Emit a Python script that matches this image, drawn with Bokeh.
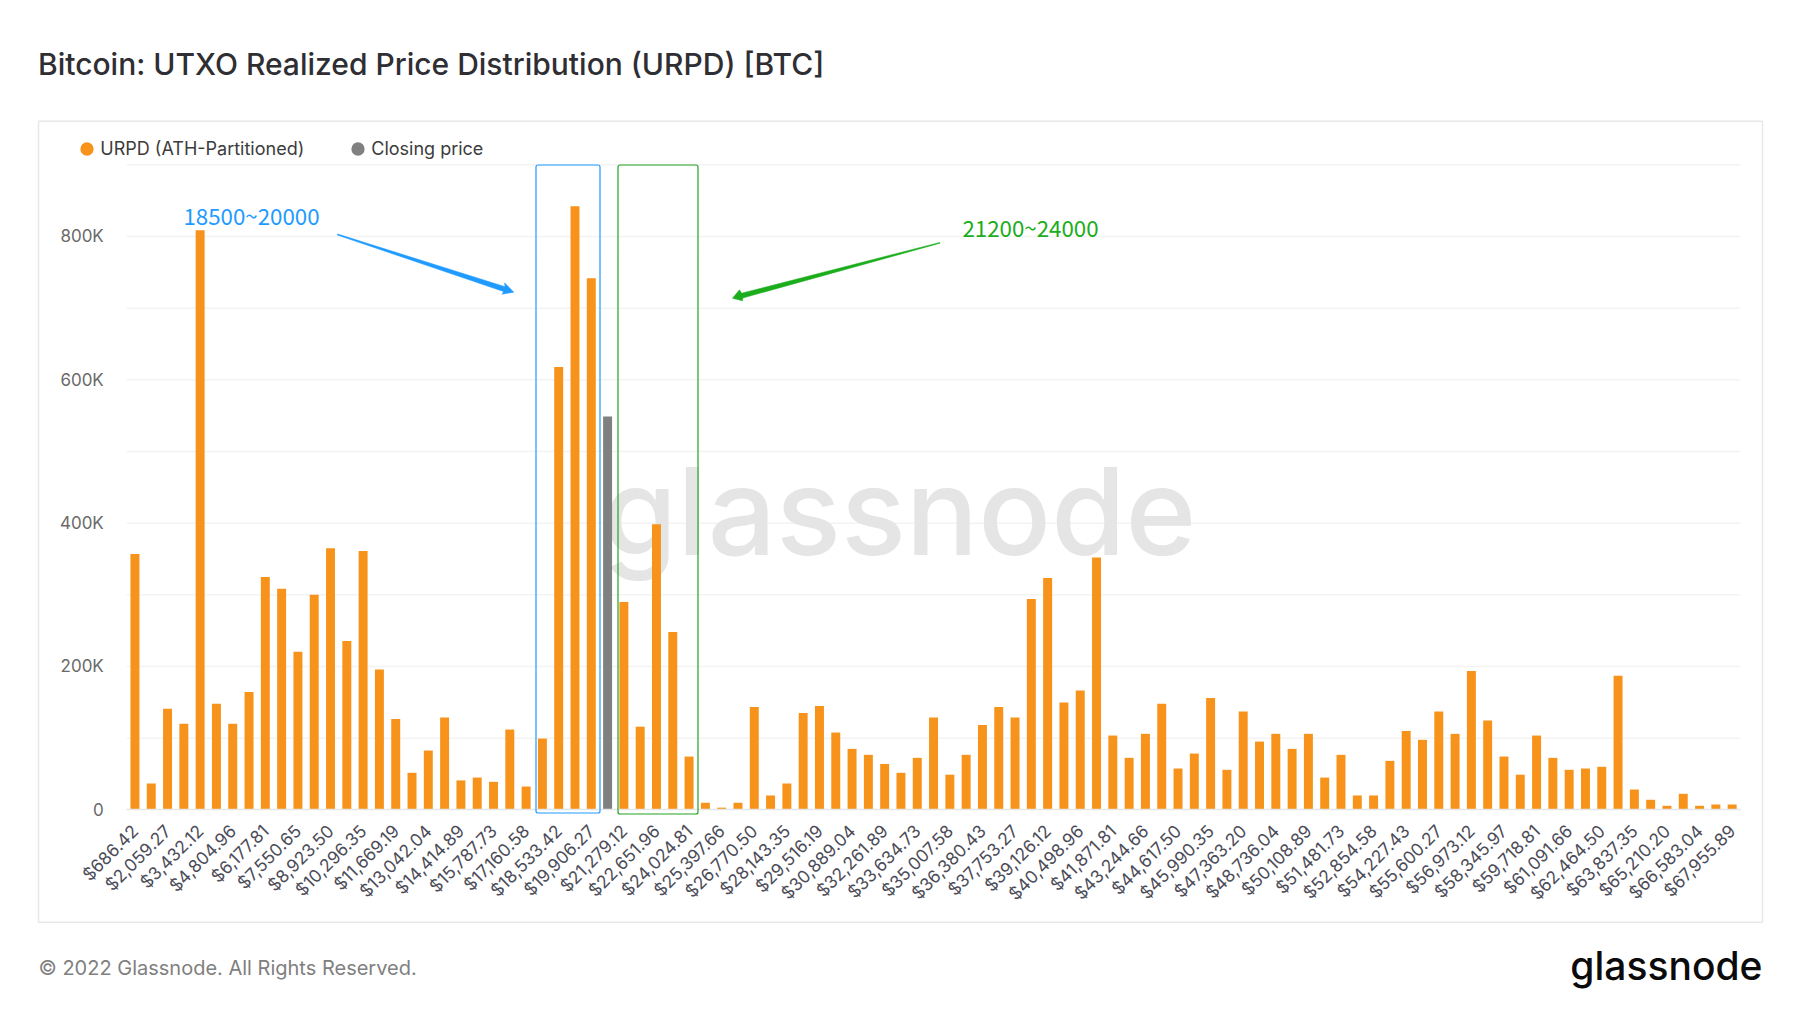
from bokeh.plotting import figure
from bokeh.embed import file_html
from bokeh.resources import INLINE
from bokeh.models import (Range1d, FixedTicker, Label, BoxAnnotation, PolyAnnotation,
                          Legend, LegendItem, ColumnDataSource)

# ---- data ----
bin_prices = [
    "$686.42", "$1,372.85", "$2,059.27", "$2,745.70", "$3,432.12", "$4,118.54", "$4,804.96", "$5,491.39",
    "$6,177.81", "$6,864.23", "$7,550.65", "$8,237.08", "$8,923.50", "$9,609.92", "$10,296.35", "$10,982.77",
    "$11,669.19", "$12,355.62", "$13,042.04", "$13,728.46", "$14,414.89", "$15,101.31", "$15,787.73", "$16,474.15",
    "$17,160.58", "$17,847.00", "$18,533.42", "$19,219.85", "$19,906.27", "$20,592.69", "$21,279.12", "$21,965.54",
    "$22,651.96", "$23,338.38", "$24,024.81", "$24,711.23", "$25,397.66", "$26,084.08", "$26,770.50", "$27,456.92",
    "$28,143.35", "$28,829.77", "$29,516.19", "$30,202.62", "$30,889.04", "$31,575.46", "$32,261.89", "$32,948.31",
    "$33,634.73", "$34,321.15", "$35,007.58", "$35,694.00", "$36,380.43", "$37,066.85", "$37,753.27", "$38,439.69",
    "$39,126.12", "$39,812.54", "$40,498.96", "$41,185.39", "$41,871.81", "$42,558.23", "$43,244.66", "$43,931.08",
    "$44,617.50", "$45,303.92", "$45,990.35", "$46,676.77", "$47,363.20", "$48,049.62", "$48,736.04", "$49,422.46",
    "$50,108.89", "$50,795.31", "$51,481.73", "$52,168.15", "$52,854.58", "$53,541.00", "$54,227.43", "$54,913.85",
    "$55,600.27", "$56,286.69", "$56,973.12", "$57,659.54", "$58,345.97", "$59,032.39", "$59,718.81", "$60,405.23",
    "$61,091.66", "$61,778.08", "$62,464.50", "$63,150.92", "$63,837.35", "$64,523.77", "$65,210.20", "$65,896.62",
    "$66,583.04", "$67,269.46", "$67,955.89",
]
urpd_values = [
    356800, 36700, 141000, 120000, 808800, 148000, 120000, 164500, 325000, 308500,
    220700, 300000, 365000, 235500, 361000, 195600, 126800, 51600, 82700, 128700,
    41000, 45000, 39000, 112000, 32500, 99400, 618000, 842300, 741700, 548700,
    290000, 116000, 398600, 248000, 74300, 9800, 3000, 9800, 143600, 20000,
    36700, 135000, 145000, 107800, 85000, 76700, 64000, 51600, 72500, 128700,
    49000, 76700, 118500, 143600, 128700, 294000, 323400, 149600, 166300, 352000,
    103600, 72500, 106000, 148000, 57600, 78500, 156000, 55800, 137000, 95200,
    106000, 85000, 106000, 45000, 76700, 20000, 20000, 68300, 110000, 97600,
    137000, 106000, 193700, 124500, 74300, 49000, 103600, 72500, 55800, 57600,
    60000, 187200, 28300, 14000, 5600, 22300, 5600, 7400, 7400,
]
closing_price_bin = "$20,592.69"
y_tick_values = [0, 200000, 400000, 600000, 800000]
y_tick_labels = ["0", "200K", "400K", "600K", "800K"]
y_grid_values = [100000, 200000, 300000, 400000, 500000, 600000, 700000, 800000, 900000]
series_names = ["URPD (ATH-Partitioned)", "Closing price"]
title_text = "Bitcoin: UTXO Realized Price Distribution (URPD) [BTC]"
footer_text = "© 2022 Glassnode. All Rights Reserved."
brand_text = "glassnode"
range_blue = "18500~20000"
range_green = "21200~24000"

ORANGE = "#f7931a"
GRAY = "#808080"
BLUE = "#1f9bff"
GREEN = "#1bad1b"
FONT = "Inter"

# ---- geometry (page pixels); the frame fills the canvas so nothing is clipped ----
W, H = 1784, 997
F_L, F_R, F_T, F_B = 126.3, 1739.8, 164.3, 809.3

n = len(bin_prices)
x_idx = list(range(n))
colors = [GRAY if b == closing_price_bin else ORANGE for b in bin_prices]
src = ColumnDataSource(dict(x=x_idx, top=urpd_values, color=colors))

px_per_x = (F_R - F_L) / n
px_per_y = (F_B - F_T) / 900000
x_range = Range1d(-0.5 - F_L / px_per_x, n - 0.5 + (W - F_R) / px_per_x)
y_range = Range1d(-(H - F_B) / px_per_y, 900000 + F_T / px_per_y)

p = figure(width=W, height=H, output_backend="svg", toolbar_location=None,
           x_range=x_range, y_range=y_range,
           min_border=0, outline_line_color=None, background_fill_color="white", border_fill_color="white")
p.grid.visible = False

# gridlines
p.segment(x0=[-0.5] * len(y_grid_values), x1=[n - 0.5] * len(y_grid_values), y0=y_grid_values, y1=y_grid_values,
          line_color="#f3f3f3", line_width=1.5, level="underlay")

bars = p.vbar(x="x", top="top", width=0.55, color="color", source=src, line_color=None)

# axes
yax = p.yaxis[0]
yax.fixed_location = -0.5
yax.bounds = (0, 900000)
yax.ticker = FixedTicker(ticks=y_tick_values)
yax.major_label_overrides = dict(zip(y_tick_values, y_tick_labels))
yax.axis_line_color = None
yax.major_tick_line_color = None
yax.minor_tick_line_color = None
yax.major_label_text_font = FONT
yax.major_label_text_font_size = "17px"
yax.major_label_text_color = "#6a6a6a"
yax.major_label_standoff = 17

shown = x_idx[::2]
xax = p.xaxis[0]
xax.fixed_location = 0
xax.bounds = (-0.5, n - 0.5)
xax.ticker = FixedTicker(ticks=shown)
xax.major_label_overrides = {i: bin_prices[i] for i in shown}
xax.major_label_orientation = 0.785398
xax.axis_line_color = "#e6e6e6"
xax.axis_line_width = 1.5
xax.major_tick_line_color = None
xax.minor_tick_line_color = None
xax.major_label_text_font = FONT
xax.major_label_text_font_size = "17.5px"
xax.major_label_text_color = "#4c4c58"
xax.major_label_standoff = 12


def text(s, x, y, size, color, font=FONT, style="normal", align="left", level="annotation"):
    p.add_layout(Label(x=x, y=H - y, x_units="screen", y_units="screen", text=s,
                       text_font=font, text_font_size=size, text_color=color,
                       text_font_style=style, text_align=align, text_baseline="middle", level=level))


def box(l, t, r, b, color, width, radius=0, level="annotation"):
    p.add_layout(BoxAnnotation(left=l, right=r, top=t, bottom=b,
                               left_units="canvas", right_units="canvas", top_units="canvas", bottom_units="canvas",
                               fill_color=None, fill_alpha=0, line_color=color, line_alpha=1, line_width=width,
                               border_radius=radius, level=level, editable=False))


def poly(pts, color):
    p.add_layout(PolyAnnotation(xs=[a for a, _ in pts], ys=[b for _, b in pts],
                                xs_units="canvas", ys_units="canvas",
                                fill_color=color, fill_alpha=1, line_color=color, line_alpha=1, line_width=0.5,
                                level="annotation"))


# panel, watermark
box(38, 120.7, 1762, 921.7, "#e8e8e8", 1.5, level="underlay")
text(brand_text, 899, 510, "120.5px", "#e5e5e5", font="Inter Medium", align="center", level="underlay")

# header/footer
text(title_text, 37.5, 63, "30px", "#2e2e33", font="Inter Medium")
text(footer_text, 38, 967, "20px", "#808080")
text(brand_text, 1762, 965, "39px", "#0b0b0b", font="Inter Medium", align="right")

# range annotations
box(535.5, 164.5, 599.5, 812.5, BLUE, 1.2, radius=2)
box(617.5, 164.5, 697.5, 813.5, "#22a322", 1.2, radius=2)
text(range_blue, 183, 214, "22.3px", BLUE, font="Noto Sans CJK SC")
text(range_green, 962, 226.5, "22.3px", GREEN, font="Noto Sans CJK SC")
poly([(337.2, 233.5), (504.6, 286.2), (504, 282.3), (513.3, 291.7), (501.7, 293.7), (503, 291), (336.8, 234.5)], BLUE)
poly([(939.5, 241.9), (741.1, 292.7), (739, 289.3), (732, 297.7), (742, 300.3), (742.3, 297.5), (939.5, 242.7)], GREEN)

# legend
off = float("nan")
s_urpd = p.scatter(x=[off], y=[off], marker="circle", color=ORANGE, line_width=2.5)
s_close = p.scatter(x=[off], y=[off], marker="circle", color=GRAY, line_width=2.5)
legend = Legend(items=[LegendItem(label=series_names[0], renderers=[s_urpd]),
                       LegendItem(label=series_names[1], renderers=[s_close])],
                orientation="horizontal", location=(73.3, H - 161.7), background_fill_alpha=0,
                border_line_color=None, margin=0, padding=0, spacing=40,
                glyph_width=27, glyph_height=27, label_standoff=0,
                label_text_font=FONT, label_text_font_size="18px", label_text_color="#3c3c3c",
                label_text_baseline="middle")
p.add_layout(legend)

open("out.html", "w").write(file_html(p, INLINE))
